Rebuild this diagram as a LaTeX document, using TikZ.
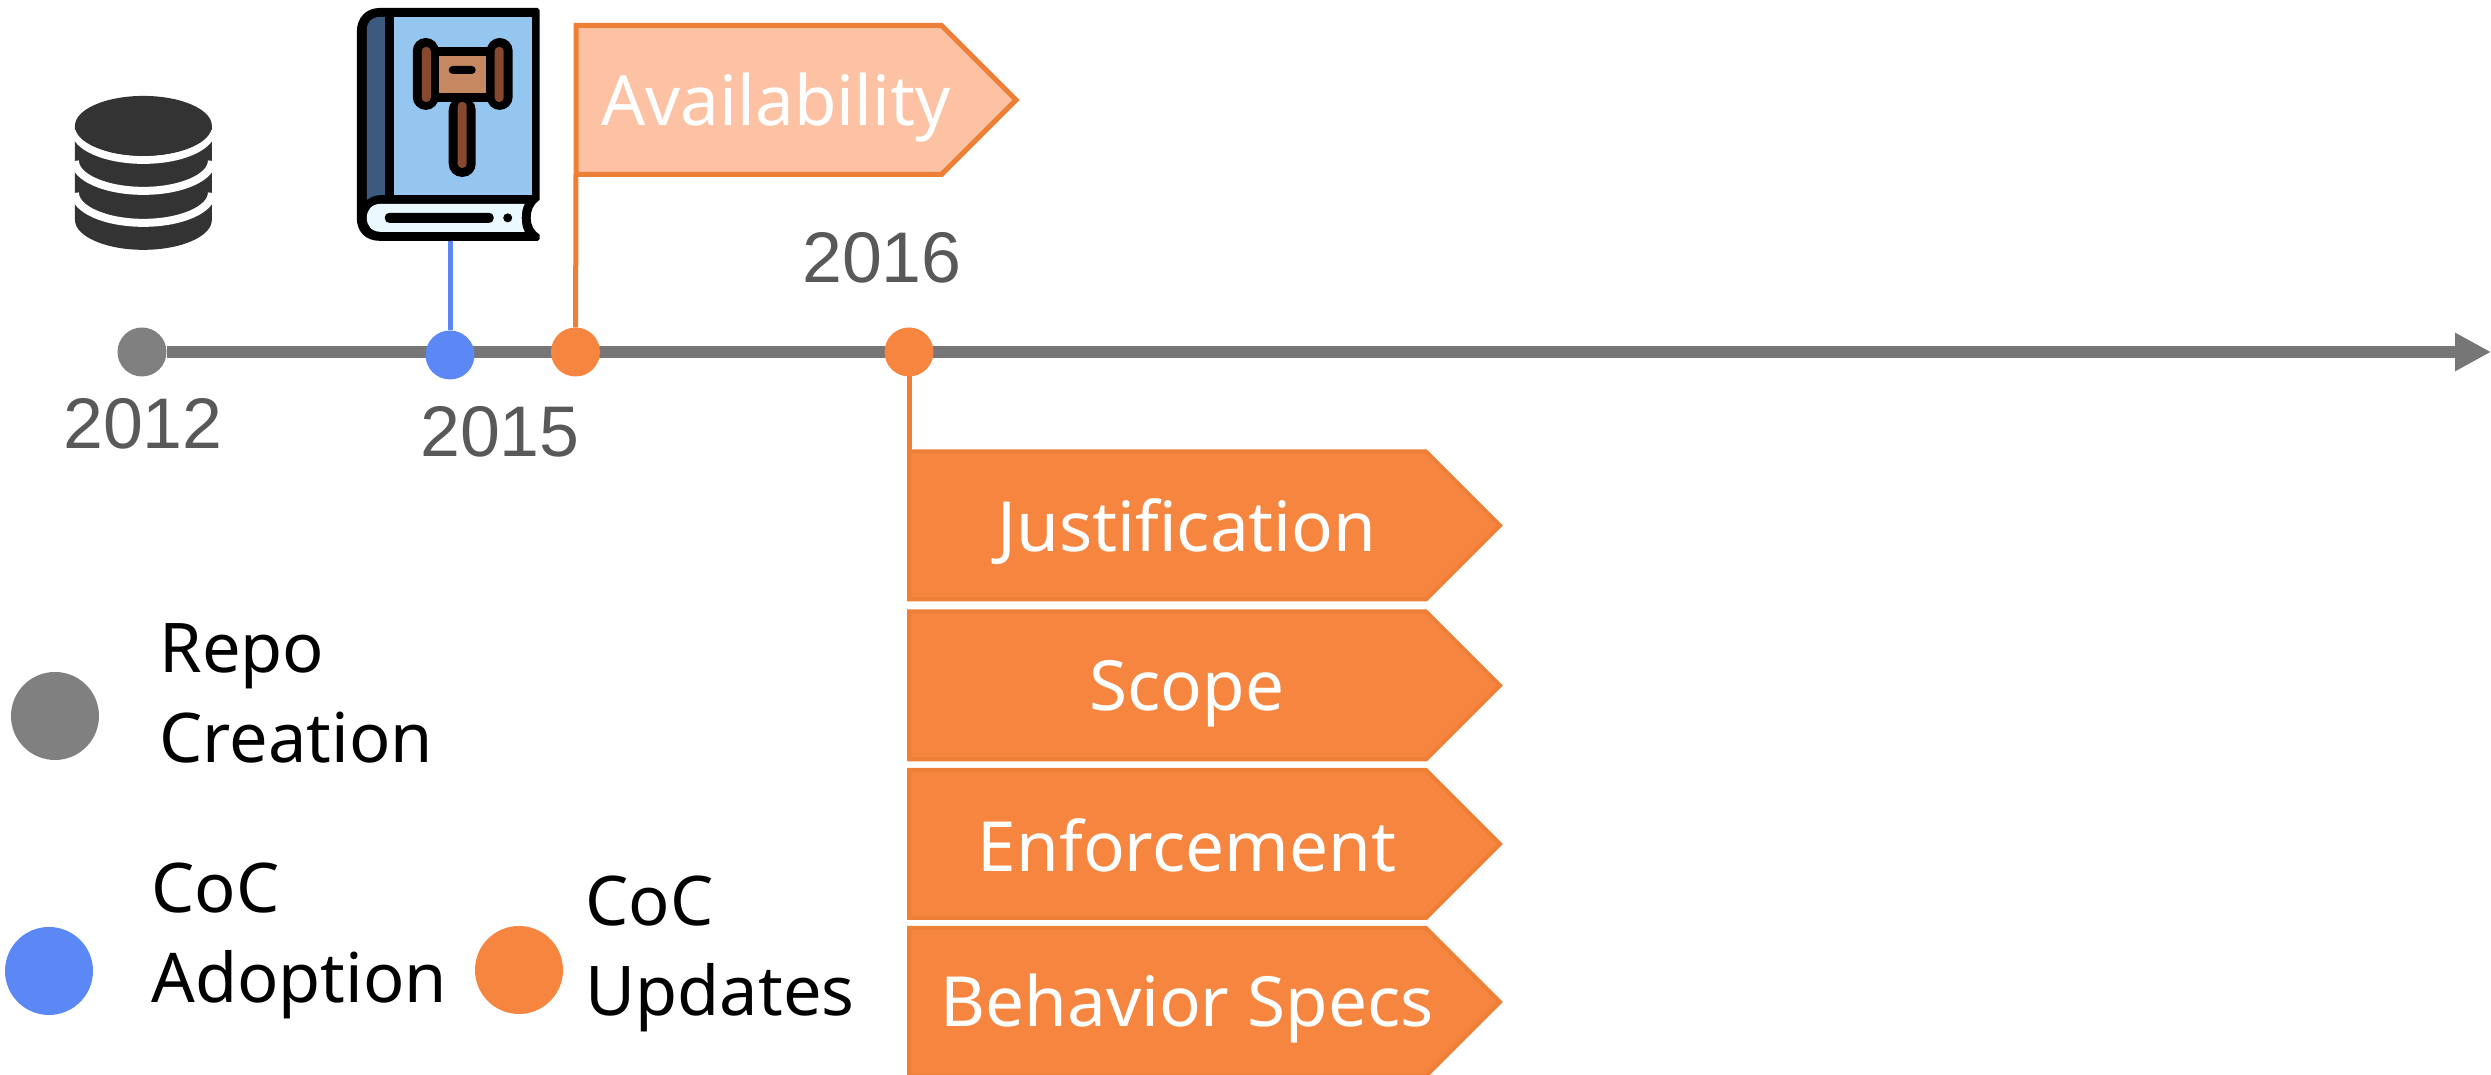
\documentclass[tikz,border=0pt]{standalone}
\usepackage{fontspec}
\usepackage{amsmath}
\setmainfont{Noto Sans}
\newfontfamily\yearfont{Liberation Sans}
\usetikzlibrary{shapes.symbols,arrows.meta,backgrounds}
\definecolor{axisgray}{HTML}{767676}
\definecolor{dotgray}{HTML}{808080}
\definecolor{dotblue}{HTML}{5C88F6}
\definecolor{dotorange}{HTML}{F6853F}
\definecolor{edgeorange}{HTML}{EE7F36}
\definecolor{flagfill}{HTML}{FCC2A3}
\definecolor{yeargray}{HTML}{595959}
\definecolor{stackdark}{HTML}{333333}
\definecolor{coverblue}{HTML}{95C6EF}
\definecolor{spineblue}{HTML}{3C5A7D}
\definecolor{pagewhite}{HTML}{E9F9FF}
\definecolor{woodbrown}{HTML}{86482F}
\definecolor{woodtan}{HTML}{C68860}
\tikzset{
	tagbox/.style={signal,signal to=east,signal pointer angle=90,draw=edgeorange,line width=0.04cm,
		inner sep=0pt,outer sep=0pt,minimum width=5.91cm,minimum height=1.48cm,anchor=west},
	taglabel/.style={text=white,font=\fontsize{19.7}{24}\selectfont},
	yearlabel/.style={text=yeargray,font=\yearfont\fontsize{20.4}{24}\selectfont},
	legendlabel/.style={align=left,anchor=west,font=\fontsize{19.5}{25.6}\selectfont}
}
\begin{document}
\begin{tikzpicture}
	\useasboundingbox (0,0) rectangle (24.91,10.75);

	% database icon and book icon, in reference pixels
	\begin{scope}[x=0.01cm,y=-0.01cm,yshift=10.75cm]
		\fill [stackdark] (75,126) -- (75,220) arc [start angle=180,end angle=0,x radius=68.5,y radius=30] -- (212,126) -- cycle;
		\foreach \y in {130,161,193}
			\draw [white,line width=0.08cm] (75,\y) arc [start angle=180,end angle=0,x radius=68.5,y radius=30];
		\fill [stackdark] (143.5,126) ellipse [x radius=68.5,y radius=30];

		\fill (538,8) -- (540,10) -- (540,200) .. controls (533,205) and (531,211) .. (531,218) .. controls (531,225) and (534,231) .. (540,235) -- (540,239) -- (538,241) -- (380,241) .. controls (366,241) and (357,232) .. (357,218) -- (357,32) .. controls (357,18) and (366,8) .. (380,8) -- cycle;
		\fill [spineblue] (385,17) -- (380,17) .. controls (372,17) and (367,22) .. (367,30) -- (367,200) .. controls (372,196) and (378,195) .. (385,195) -- cycle;
		\fill [coverblue] (394,17) rectangle (532,195);
		\fill [pagewhite] (525,204) -- (381,204) .. controls (372,204) and (367,210) .. (367,218) .. controls (367,226) and (372,232) .. (381,232) -- (525,232) .. controls (521,225) and (521,211) .. (525,204) -- cycle;
		\fill [rounded corners=0.045cm] (385,213) rectangle (494,223);
		\fill (508,218) circle [radius=4.5];

		\fill [rounded corners=0.13cm] (413,38) rectangle (439,110);
		\fill [rounded corners=0.13cm] (487,38) rectangle (513,110);
		\fill [rounded corners=0.13cm] (449,97) rectangle (476,177);
		\fill (433,47) rectangle (493,102);
		\fill [woodbrown,rounded corners=0.04cm] (422,47) rectangle (431,102);
		\fill [woodbrown,rounded corners=0.04cm] (495,47) rectangle (504,102);
		\fill [woodbrown,rounded corners=0.04cm] (458,102) rectangle (467,168);
		\fill [woodtan] (439,56) rectangle (486,93);
		\fill [rounded corners=0.04cm] (449,66) rectangle (476,74);
	\end{scope}

	\begin{scope}[every node/.style={circle,inner sep=0pt,outer sep=0pt,minimum size=0.49cm}]
		\node [fill=dotgray] (created) at (1.42,7.23) {};
		\node [fill=dotblue] (adopted) at (4.50,7.20) {};
		\node [fill=dotorange] (availupdate) at (5.755,7.23) {};
		\node [fill=dotorange] (mainupdate) at (9.09,7.23) {};
	\end{scope}

	\begin{scope}[every node/.style={circle,inner sep=0pt,outer sep=0pt,minimum size=0.88cm}]
		\node [fill=dotgray] (keycreated) at (0.55,3.59) {};
		\node [fill=dotblue] (keyadopted) at (0.49,1.04) {};
		\node [fill=dotorange] (keyupdates) at (5.19,1.05) {};
	\end{scope}

	\coordinate (axisend) at (24.91,7.23);
	\coordinate (bookfoot) at (4.50,8.34);

	\node [tagbox,fill=flagfill,line width=0.05cm,minimum width=4.40cm,minimum height=1.49cm] (availability) at (5.76,9.75) {};
	\node [tagbox,fill=dotorange] (justification) at (9.09,5.495) {};
	\node [tagbox,fill=dotorange] (scopetag) at (9.09,3.895) {};
	\node [tagbox,fill=dotorange] (enforcement) at (9.09,2.31) {};
	\node [tagbox,fill=dotorange] (behavior) at (9.09,0.73) {};

	\begin{scope}[on background layer]
		\draw [axisgray,line width=0.12cm,-{Triangle[length=0.36cm,width=0.36cm]}] (created) -- (axisend);
	\end{scope}

	\begin{scope}[every edge/.style={draw,line width=0.05cm}]
		\path [dotblue] (adopted) edge (bookfoot);
		\path [edgeorange] (availupdate) edge (availability.south west);
		\path [edgeorange] (mainupdate) edge (justification.north west);
	\end{scope}

	\node [taglabel] (availtext) at (7.76,9.67) {Availability};
	\node [taglabel] (justtext) at (11.87,5.43) {Justification};
	\node [taglabel] (scopetext) at (11.87,3.81) {Scope};
	\node [taglabel] (enforcetext) at (11.87,2.30) {Enforcement};
	\node [taglabel] (behaviortext) at (11.87,0.66) {Behavior Specs};

	\node [yearlabel] (year2012) at (1.43,6.51) {2012};
	\node [yearlabel] (year2015) at (5.00,6.43) {2015};
	\node [yearlabel] (year2016) at (8.82,8.17) {2016};

	\node [legendlabel] (repotext) at (1.47,3.815) {Repo\\Creation};
	\node [legendlabel] (adopttext) at (1.39,1.345) {CoC\\Adoption};
	\node [legendlabel] (updatetext) at (5.73,1.215) {CoC\\Updates};
\end{tikzpicture}
\end{document}
